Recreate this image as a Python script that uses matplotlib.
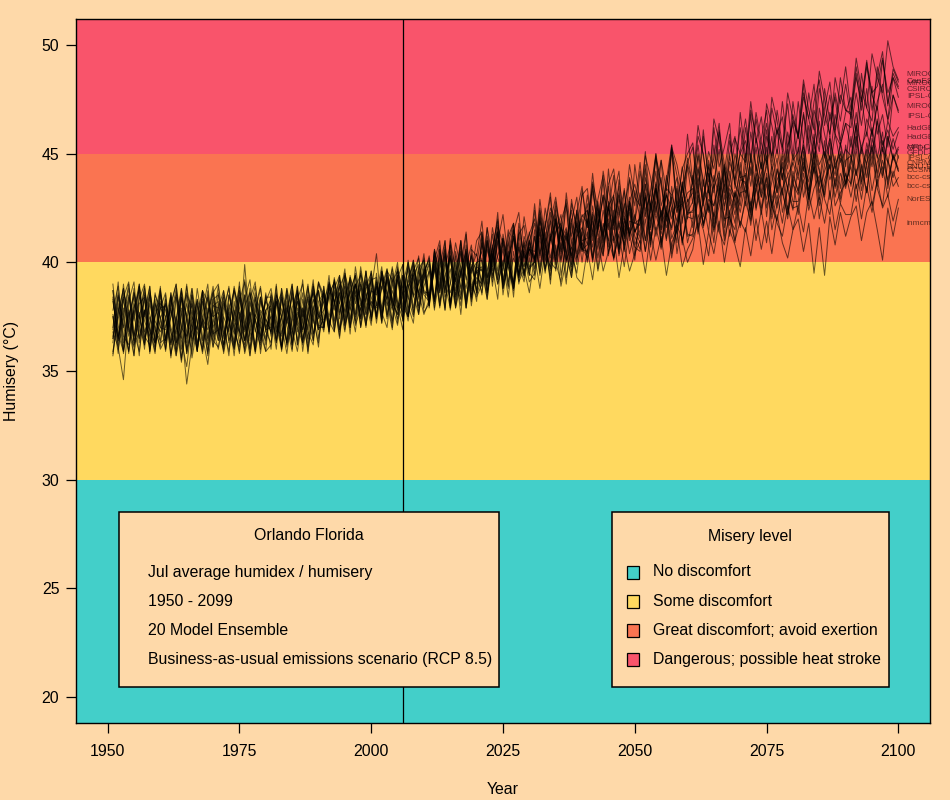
import matplotlib
matplotlib.use('Agg')
import matplotlib.pyplot as plt
from matplotlib.patches import Rectangle

plt.rcParams['font.family'] = ['Liberation Sans', 'DejaVu Sans']

# years 1951-2100, one July value per year and model
years = list(range(1951, 2101))

model_names = ['MIROC-ESM', 'CanESM2', 'MIROC-ESM-CHEM', 'CSIRO-Mk3-6-0',
               'IPSL-CM5A-MR', 'MIROC5', 'IPSL-CM5A-LR', 'HadGEM2-CC365',
               'HadGEM2-ES365', 'MRI-CGCM3', 'GFDL-ESM2G', 'GFDL-ESM2M',
               'IPSL-CM5B-LR', 'CNRM-CM5', 'BNU-ESM', 'CCSM4', 'bcc-csm1-1',
               'bcc-csm1-1-m', 'NorESM1-M', 'inmcm4']
label_y = [48.66, 48.34, 48.25, 47.97, 47.65, 47.19, 46.73, 46.18, 45.76, 45.30,
           45.25, 45.02, 44.79, 44.56, 44.38, 44.24, 43.92, 43.50, 42.90, 41.80]

miroc_esm = [
    36.3, 38.4, 37.1, 35.9, 37.9, 38.7, 36.6, 36.2, 38.1, 37.5,
    36.0, 37.5, 38.8, 36.4, 35.2, 37.3, 38.2, 36.1, 38.5, 37.0,
    37.9, 36.2, 37.0, 38.9, 37.6, 35.8, 36.9, 38.4, 36.5, 37.4,
    36.8, 38.3, 35.9, 37.6, 39.0, 37.0, 36.3, 38.0, 38.6, 37.1,
    37.0, 39.1, 38.2, 36.6, 38.3, 39.3, 37.1, 37.9, 39.6, 37.3,
    38.9, 37.2, 39.4, 38.0, 37.1, 39.0, 40.0, 37.6, 39.3, 40.2,
    38.2, 40.1, 41.0, 38.4, 39.0, 40.9, 39.7, 37.9, 40.6, 40.3,
    41.9, 39.3, 40.0, 41.7, 40.8, 38.9, 41.4, 42.3, 39.8, 40.6,
    40.1, 42.9, 41.0, 42.5, 41.8, 40.0, 43.2, 41.2, 42.3, 43.5,
    41.6, 44.1, 41.9, 41.2, 43.6, 44.3, 42.2, 43.3, 41.0, 44.5,
    42.7, 45.1, 42.5, 44.8, 43.7, 42.1, 45.3, 44.5, 43.2, 45.9,
    43.7, 46.3, 44.9, 43.3, 46.6, 45.6, 44.2, 45.9, 43.6, 46.9,
    44.8, 47.4, 45.5, 46.7, 44.6, 47.6, 46.5, 45.1, 47.8, 46.6,
    45.9, 48.4, 47.0, 46.1, 48.8, 47.5, 45.8, 48.5, 47.3, 49.0,
    47.0, 49.4, 47.9, 47.1, 49.6, 48.5, 47.8, 50.2, 49.0, 48.4]
canesm2 = [
    38.4, 36.4, 37.6, 39.0, 36.8, 35.9, 37.7, 38.5, 36.3, 37.9,
    37.5, 35.8, 36.9, 38.4, 37.6, 35.6, 37.0, 38.7, 36.4, 37.8,
    36.4, 37.9, 38.8, 36.8, 36.1, 39.2, 37.4, 36.2, 37.6, 38.2,
    37.8, 36.3, 38.4, 37.1, 35.9, 38.6, 37.5, 38.9, 36.7, 37.9,
    38.6, 37.3, 36.8, 38.9, 39.4, 37.4, 38.5, 37.8, 38.9, 39.5,
    37.5, 38.9, 38.3, 39.8, 38.2, 37.7, 39.2, 40.1, 38.4, 39.4,
    40.3, 38.3, 39.8, 41.0, 38.0, 40.5, 39.3, 41.3, 38.4, 39.8,
    39.6, 41.6, 39.1, 40.9, 42.2, 40.1, 39.0, 41.3, 41.7, 40.0,
    42.4, 40.4, 41.6, 43.0, 40.1, 41.9, 42.7, 41.0, 39.9, 43.3,
    41.6, 43.6, 41.5, 44.2, 42.7, 41.0, 43.8, 42.1, 44.5, 43.0,
    42.6, 44.9, 43.9, 42.2, 44.7, 43.3, 45.4, 42.6, 44.3, 45.0,
    45.5, 43.4, 46.1, 43.7, 44.8, 46.4, 43.5, 45.6, 44.2, 46.2,
    44.5, 47.0, 45.8, 44.3, 47.3, 46.3, 45.0, 47.4, 45.3, 46.5,
    45.8, 48.2, 45.5, 47.4, 48.4, 46.3, 47.7, 45.9, 48.5, 47.0,
    46.8, 49.0, 47.5, 49.3, 47.0, 48.6, 49.7, 47.2, 48.9, 48.3]
miroc_esm_chem = [
    36.5, 38.1, 35.8, 37.4, 38.6, 37.1, 36.2, 38.4, 36.9, 36.4,
    38.3, 36.8, 35.7, 37.9, 36.3, 38.5, 37.3, 35.9, 37.6, 38.9,
    36.9, 35.9, 38.1, 37.3, 38.7, 36.4, 37.7, 36.0, 38.4, 36.8,
    36.3, 38.0, 38.6, 36.1, 37.3, 38.2, 36.5, 37.5, 39.0, 37.6,
    37.2, 38.5, 39.1, 36.9, 37.9, 38.7, 39.4, 37.0, 38.3, 39.2,
    39.3, 37.7, 37.0, 39.1, 39.6, 38.0, 37.5, 39.4, 39.9, 38.6,
    38.6, 40.5, 38.0, 39.8, 40.8, 39.0, 38.3, 40.4, 39.5, 41.0,
    41.4, 39.6, 40.7, 41.9, 39.2, 40.4, 41.7, 39.8, 42.1, 40.6,
    40.5, 42.5, 40.1, 41.9, 43.0, 41.2, 40.4, 42.7, 41.6, 43.1,
    43.4, 41.4, 42.9, 44.0, 41.5, 43.1, 44.2, 41.1, 42.8, 43.6,
    42.5, 44.5, 42.3, 45.0, 43.5, 42.1, 45.2, 44.0, 42.8, 44.8,
    43.6, 45.8, 45.0, 43.2, 46.2, 44.4, 45.3, 46.4, 43.4, 45.1,
    46.6, 44.8, 46.9, 45.5, 44.5, 47.1, 45.9, 46.7, 44.6, 47.4,
    45.7, 47.8, 46.6, 48.2, 45.5, 47.1, 48.3, 46.1, 47.7, 47.0,
    46.9, 48.7, 47.0, 49.2, 47.8, 48.1, 49.4, 47.3, 48.7, 48.1]
csiro_mk3 = [
    37.8, 38.9, 36.6, 36.2, 38.1, 37.4, 38.8, 35.9, 37.5, 38.6,
    36.4, 37.5, 38.5, 35.6, 36.9, 38.2, 36.3, 37.4, 38.4, 36.1,
    37.6, 38.5, 36.4, 37.2, 35.8, 38.3, 39.2, 36.9, 36.2, 37.8,
    38.3, 36.8, 37.5, 38.8, 36.3, 37.4, 38.6, 35.9, 37.8, 38.7,
    37.0, 38.9, 38.1, 39.3, 37.1, 38.0, 39.0, 38.3, 37.3, 39.6,
    38.0, 39.5, 37.5, 38.7, 37.8, 39.4, 38.3, 40.0, 38.6, 39.6,
    40.1, 38.3, 40.6, 39.0, 40.2, 38.4, 41.0, 39.2, 40.3, 38.6,
    40.9, 39.3, 41.6, 40.2, 39.6, 41.2, 41.8, 39.4, 40.6, 41.3,
    42.0, 40.3, 42.5, 41.0, 42.8, 41.3, 40.0, 42.9, 41.4, 42.2,
    41.8, 43.5, 41.4, 43.1, 42.4, 44.0, 41.5, 42.6, 43.8, 41.9,
    44.2, 42.4, 43.1, 44.9, 42.6, 43.5, 45.1, 42.3, 43.4, 44.5,
    43.6, 45.4, 43.5, 45.1, 44.3, 46.0, 43.2, 45.0, 45.8, 43.9,
    46.2, 44.6, 46.6, 45.0, 46.4, 44.8, 47.0, 45.4, 44.3, 46.8,
    45.7, 47.6, 46.6, 45.4, 48.0, 46.8, 45.9, 47.8, 46.5, 48.2,
    46.6, 48.5, 47.4, 49.0, 47.7, 47.0, 49.3, 47.8, 48.5, 48.0]
ipsl_cm5a_mr = [
    35.7, 37.7, 38.8, 37.0, 36.1, 39.0, 37.3, 36.6, 38.5, 37.9,
    38.6, 36.3, 37.4, 38.8, 35.8, 36.9, 38.3, 36.6, 35.3, 37.4,
    36.4, 38.7, 37.4, 36.0, 38.5, 37.1, 35.7, 37.9, 38.9, 36.8,
    37.9, 36.3, 38.8, 37.5, 36.5, 38.7, 37.2, 36.1, 37.6, 39.1,
    38.5, 36.8, 39.3, 37.7, 38.9, 37.2, 39.8, 38.2, 37.1, 38.8,
    37.4, 39.6, 38.6, 37.0, 39.2, 37.8, 40.1, 38.4, 39.0, 40.4,
    38.0, 40.6, 39.5, 37.9, 41.1, 38.7, 39.9, 41.4, 38.5, 40.0,
    39.1, 41.6, 40.2, 42.3, 39.0, 40.9, 41.8, 39.4, 41.2, 40.3,
    42.7, 40.2, 41.7, 43.2, 40.3, 41.4, 42.9, 39.9, 42.4, 41.0,
    41.1, 43.7, 42.5, 40.9, 44.3, 41.8, 43.2, 41.3, 43.9, 42.6,
    44.6, 42.1, 43.3, 45.0, 41.9, 43.8, 45.4, 42.5, 42.7, 44.6,
    45.3, 43.0, 45.8, 44.0, 43.2, 46.1, 44.5, 43.6, 45.7, 45.0,
    44.6, 46.8, 44.2, 45.7, 47.0, 44.5, 46.1, 45.3, 47.3, 44.9,
    47.4, 45.5, 47.8, 46.2, 45.1, 48.0, 46.5, 47.6, 45.6, 46.9,
    47.6, 45.9, 48.7, 47.1, 46.5, 49.0, 47.6, 46.6, 48.5, 47.6]
miroc5 = [
    37.5, 36.2, 38.6, 37.8, 36.4, 37.4, 38.9, 37.0, 35.9, 38.1,
    37.8, 36.8, 35.9, 38.3, 37.5, 36.5, 38.8, 37.2, 36.2, 38.0,
    38.2, 36.7, 37.9, 36.3, 38.7, 37.5, 36.0, 37.7, 38.8, 36.9,
    37.0, 38.5, 36.7, 38.0, 36.2, 38.3, 39.0, 37.4, 36.4, 38.2,
    38.6, 37.1, 38.8, 39.4, 37.3, 38.7, 37.5, 39.5, 38.6, 37.5,
    39.1, 37.9, 39.4, 38.2, 39.8, 38.5, 37.5, 39.6, 40.2, 38.7,
    38.5, 40.3, 38.7, 40.4, 38.1, 39.5, 40.7, 38.2, 39.8, 39.0,
    40.9, 39.2, 41.3, 39.6, 41.1, 40.0, 39.0, 41.5, 40.2, 40.6,
    40.2, 42.0, 40.6, 42.3, 39.9, 41.6, 41.0, 42.4, 40.4, 41.3,
    43.1, 41.2, 42.5, 41.0, 43.5, 41.7, 42.9, 42.0, 41.3, 43.3,
    42.0, 43.9, 42.6, 44.2, 41.8, 43.4, 43.1, 42.3, 44.4, 42.8,
    43.2, 44.9, 43.0, 44.4, 43.7, 45.2, 42.9, 44.6, 43.8, 45.0,
    45.6, 44.0, 45.7, 44.3, 46.1, 44.2, 45.2, 43.8, 46.0, 44.7,
    45.1, 46.8, 45.0, 47.0, 46.0, 44.9, 46.9, 45.9, 45.4, 46.4,
    46.2, 47.8, 46.3, 48.0, 45.8, 47.4, 48.2, 46.5, 47.7, 47.0]
ipsl_cm5a_lr = [
    37.0, 39.1, 36.3, 37.7, 35.7, 38.5, 37.5, 38.9, 36.1, 37.4,
    35.9, 38.4, 37.3, 35.4, 37.6, 38.8, 36.0, 37.4, 36.9, 38.6,
    39.0, 37.2, 35.7, 38.2, 36.6, 39.9, 37.0, 35.9, 38.4, 37.3,
    36.0, 38.6, 37.4, 36.3, 38.9, 36.8, 37.9, 35.8, 38.2, 38.7,
    36.9, 39.1, 38.2, 36.5, 39.5, 38.5, 37.2, 39.6, 37.8, 38.7,
    40.4, 37.7, 39.2, 37.2, 39.6, 38.8, 37.5, 39.8, 38.5, 40.1,
    38.0, 40.5, 39.4, 37.8, 41.0, 39.7, 38.3, 40.6, 38.2, 39.9,
    41.4, 39.0, 40.6, 42.0, 38.8, 40.0, 41.5, 39.3, 40.9, 39.7,
    40.0, 42.4, 41.1, 39.6, 42.6, 41.3, 40.1, 41.9, 43.0, 40.6,
    40.8, 43.3, 41.7, 43.8, 40.7, 42.2, 43.5, 41.1, 42.8, 41.8,
    42.0, 44.3, 41.6, 43.4, 44.7, 41.9, 43.0, 43.9, 41.8, 44.4,
    42.7, 45.0, 43.8, 42.4, 45.4, 43.3, 44.5, 42.6, 45.0, 43.9,
    43.6, 46.0, 44.4, 43.2, 45.8, 44.9, 46.2, 43.8, 45.3, 46.4,
    44.5, 46.9, 45.4, 44.1, 47.1, 45.9, 44.7, 46.8, 45.5, 44.4,
    46.9, 45.2, 47.6, 45.8, 48.1, 45.9, 46.8, 45.3, 47.7, 46.9]
hadgem2_cc = [
    38.2, 36.7, 35.9, 38.4, 37.3, 38.9, 36.5, 37.2, 38.3, 36.3,
    36.5, 38.0, 39.0, 37.0, 34.4, 36.2, 38.0, 36.4, 37.6, 38.7,
    36.8, 36.0, 38.5, 37.7, 36.3, 37.1, 38.8, 35.8, 37.3, 38.2,
    38.8, 37.3, 36.1, 38.7, 36.9, 35.9, 37.6, 39.0, 36.7, 37.5,
    38.2, 39.0, 37.3, 38.6, 37.5, 39.4, 38.1, 38.8, 37.0, 39.3,
    38.0, 39.6, 38.6, 37.8, 39.4, 37.3, 38.8, 40.1, 38.3, 39.3,
    40.0, 38.2, 40.6, 39.0, 37.9, 40.3, 38.8, 39.8, 40.8, 38.5,
    39.3, 41.0, 38.9, 41.3, 39.7, 41.5, 39.1, 40.3, 39.8, 41.4,
    40.1, 41.9, 40.8, 39.7, 42.2, 41.0, 41.6, 40.2, 42.4, 40.7,
    42.4, 41.0, 42.8, 41.2, 42.6, 43.1, 40.6, 41.9, 43.0, 41.4,
    41.8, 43.6, 42.4, 43.4, 41.5, 44.0, 42.7, 41.9, 43.7, 42.3,
    42.8, 44.4, 42.6, 44.7, 43.4, 44.2, 42.4, 44.9, 43.6, 43.0,
    45.0, 43.5, 45.3, 43.6, 44.4, 45.8, 43.2, 45.1, 44.0, 44.6,
    46.0, 44.2, 46.3, 44.7, 46.5, 44.8, 45.7, 44.3, 45.4, 46.4,
    45.3, 46.9, 45.0, 46.6, 45.9, 47.2, 45.1, 46.5, 45.8, 46.2]
hadgem2_es = [
    35.8, 37.9, 37.0, 38.5, 36.6, 37.7, 36.0, 38.6, 37.3, 36.8,
    37.4, 36.2, 38.6, 37.6, 36.0, 36.9, 38.3, 37.5, 35.7, 38.0,
    37.9, 38.7, 36.8, 36.0, 37.4, 38.5, 36.6, 37.6, 37.0, 36.4,
    37.6, 36.5, 38.3, 37.2, 38.6, 36.2, 37.9, 36.9, 38.9, 37.4,
    37.8, 38.8, 37.1, 39.2, 38.3, 37.0, 38.9, 39.4, 37.6, 38.2,
    37.9, 38.8, 39.6, 38.3, 37.4, 38.7, 39.7, 37.9, 39.2, 38.5,
    38.2, 39.9, 38.6, 40.4, 39.1, 38.0, 39.6, 40.5, 38.7, 39.3,
    39.0, 40.8, 39.4, 40.3, 41.1, 39.1, 40.2, 39.5, 41.0, 39.8,
    40.0, 41.6, 40.4, 39.8, 41.4, 41.8, 40.1, 40.9, 41.9, 40.5,
    41.9, 40.7, 42.3, 41.3, 42.6, 40.9, 41.9, 40.8, 42.5, 41.4,
    42.0, 43.0, 41.5, 43.4, 42.1, 43.1, 42.5, 41.3, 43.5, 42.2,
    42.4, 43.9, 42.8, 43.4, 42.1, 44.1, 42.6, 43.6, 43.0, 44.2,
    43.2, 44.8, 43.5, 44.1, 44.9, 42.9, 43.8, 44.4, 43.4, 45.0,
    44.0, 45.4, 44.1, 45.6, 44.5, 45.1, 44.3, 45.9, 44.6, 45.2,
    44.9, 46.3, 45.3, 46.0, 45.0, 46.5, 45.4, 46.1, 45.2, 46.0]
mri_cgcm3 = [
    38.7, 36.0, 37.5, 38.8, 36.3, 37.2, 38.3, 35.8, 38.1, 37.0,
    36.9, 38.4, 35.9, 37.6, 38.6, 36.4, 37.1, 38.5, 37.4, 36.1,
    37.5, 36.2, 37.8, 38.7, 36.9, 36.0, 38.2, 37.3, 36.6, 38.6,
    36.6, 38.2, 37.1, 35.8, 37.6, 38.9, 36.9, 38.5, 37.4, 36.3,
    38.9, 37.2, 38.0, 39.4, 36.9, 38.2, 39.0, 37.4, 39.6, 38.0,
    39.2, 37.6, 38.5, 39.7, 38.1, 37.4, 40.0, 38.5, 37.6, 39.5,
    40.2, 37.9, 39.3, 40.6, 38.0, 39.6, 37.6, 40.3, 39.0, 38.4,
    39.0, 41.2, 39.8, 38.3, 41.3, 40.0, 39.0, 40.7, 39.4, 41.0,
    41.8, 39.8, 41.1, 39.0, 42.0, 40.5, 41.5, 39.6, 42.2, 40.7,
    40.2, 42.6, 41.2, 40.3, 42.8, 41.7, 40.4, 42.7, 41.3, 41.9,
    43.2, 41.0, 42.3, 43.6, 40.8, 42.4, 41.5, 43.4, 41.0, 42.1,
    42.0, 44.3, 42.8, 41.4, 44.0, 43.0, 44.4, 41.7, 43.3, 42.6,
    44.5, 42.6, 43.9, 45.1, 42.5, 43.7, 44.8, 42.3, 43.4, 44.6,
    43.8, 45.6, 43.2, 45.1, 44.2, 43.1, 45.8, 44.5, 45.0, 43.6,
    45.8, 44.0, 45.3, 44.5, 46.2, 44.9, 43.9, 45.8, 44.8, 45.3]
gfdl_esm2g = [
    37.5, 35.8, 38.4, 39.1, 36.2, 36.8, 38.5, 35.9, 37.7, 38.8,
    36.4, 38.6, 35.7, 37.0, 39.0, 36.1, 37.6, 38.7, 35.9, 37.4,
    38.9, 36.6, 37.5, 35.7, 38.2, 39.1, 36.4, 37.4, 36.0, 38.5,
    37.0, 39.0, 36.0, 37.9, 36.8, 38.9, 36.3, 37.6, 39.2, 36.5,
    37.7, 39.4, 36.9, 38.4, 39.7, 37.0, 39.0, 37.7, 39.6, 37.3,
    39.5, 37.2, 39.7, 38.2, 37.6, 39.9, 37.5, 38.8, 40.3, 37.7,
    38.1, 40.6, 38.9, 41.0, 37.9, 40.0, 38.5, 40.8, 39.3, 38.2,
    41.3, 38.6, 40.2, 41.6, 39.0, 40.5, 38.4, 41.3, 39.5, 40.7,
    39.4, 42.1, 40.0, 41.3, 42.4, 39.4, 40.9, 42.0, 40.1, 41.5,
    42.7, 40.2, 41.6, 43.1, 40.3, 42.1, 40.5, 43.4, 41.2, 42.2,
    41.1, 43.6, 40.8, 42.9, 43.9, 41.1, 42.5, 40.9, 43.7, 42.0,
    44.0, 41.4, 42.9, 44.5, 41.8, 43.5, 41.2, 44.2, 42.5, 44.6,
    42.6, 45.0, 42.5, 43.9, 45.3, 42.2, 44.3, 43.1, 45.2, 43.6,
    45.3, 43.0, 44.1, 45.9, 42.9, 44.5, 45.5, 43.4, 44.8, 43.6,
    44.5, 46.4, 43.7, 45.5, 44.4, 46.6, 44.0, 45.8, 44.7, 45.2]
gfdl_esm2m = [
    38.7, 37.1, 35.9, 38.2, 39.1, 36.5, 37.8, 36.0, 38.6, 37.4,
    38.1, 36.2, 37.5, 35.5, 38.5, 37.9, 35.9, 38.3, 37.1, 36.4,
    36.1, 37.6, 38.9, 37.0, 35.9, 38.0, 38.6, 36.8, 37.8, 36.2,
    38.5, 37.1, 36.0, 38.8, 37.7, 36.4, 38.3, 36.8, 36.2, 38.7,
    37.0, 38.5, 39.1, 37.4, 39.5, 38.0, 36.8, 39.0, 38.2, 39.6,
    37.4, 39.6, 38.2, 36.9, 39.3, 39.9, 38.0, 37.2, 39.7, 40.1,
    38.4, 39.6, 40.8, 37.8, 40.3, 39.1, 41.0, 37.9, 39.7, 40.4,
    38.9, 41.0, 39.8, 41.4, 38.5, 40.2, 41.1, 39.3, 40.6, 39.4,
    41.2, 39.6, 41.9, 40.2, 41.4, 42.2, 39.3, 40.7, 41.8, 40.0,
    42.0, 40.2, 42.6, 40.7, 42.2, 43.0, 40.3, 41.6, 42.8, 40.8,
    41.5, 43.1, 40.7, 43.4, 42.3, 41.0, 43.5, 41.5, 42.6, 43.2,
    43.4, 41.6, 43.8, 42.3, 43.6, 41.4, 44.2, 42.9, 41.8, 43.9,
    44.0, 42.3, 44.5, 43.0, 44.7, 42.6, 43.4, 44.6, 42.4, 44.2,
    43.2, 45.1, 42.9, 45.4, 44.3, 43.0, 44.9, 44.0, 45.5, 43.5,
    44.7, 45.9, 43.6, 45.0, 46.1, 43.9, 45.2, 44.6, 45.7, 44.8]
ipsl_cm5b_lr = [
    36.5, 37.6, 38.8, 37.0, 35.7, 38.1, 38.4, 36.8, 36.3, 37.9,
    38.0, 35.6, 38.4, 37.0, 36.6, 37.8, 35.9, 38.7, 38.2, 36.9,
    36.0, 37.5, 36.8, 38.7, 37.9, 36.4, 37.3, 38.4, 35.8, 37.8,
    38.0, 36.4, 37.5, 38.5, 36.0, 37.7, 36.9, 38.3, 37.2, 39.0,
    38.4, 36.8, 38.7, 38.1, 39.3, 37.0, 38.3, 39.1, 37.1, 38.7,
    38.5, 39.3, 37.4, 39.5, 37.9, 38.4, 39.8, 39.2, 37.7, 38.9,
    39.6, 38.2, 40.2, 38.8, 39.7, 38.1, 40.5, 39.3, 38.4, 39.9,
    40.5, 38.9, 40.7, 39.4, 40.6, 38.8, 41.2, 39.9, 39.1, 40.9,
    40.0, 41.4, 39.7, 41.1, 41.8, 40.1, 41.4, 40.3, 41.7, 40.6,
    40.5, 42.1, 40.2, 41.8, 41.0, 42.4, 40.6, 41.9, 41.3, 40.1,
    42.5, 41.0, 42.7, 41.5, 42.2, 43.1, 41.1, 41.8, 42.9, 40.9,
    41.9, 43.4, 41.7, 42.9, 42.6, 43.7, 41.6, 43.2, 42.2, 43.8,
    43.7, 42.4, 44.1, 43.0, 43.9, 42.5, 44.3, 43.2, 42.2, 44.0,
    43.3, 44.8, 43.0, 44.4, 43.5, 45.0, 43.8, 44.5, 42.9, 44.7,
    44.9, 44.0, 45.3, 43.9, 45.4, 44.1, 45.6, 44.7, 43.9, 44.9]
cnrm_cm5 = [
    38.3, 36.4, 39.0, 36.8, 37.8, 35.7, 38.6, 37.6, 36.5, 38.9,
    36.0, 38.6, 37.0, 36.5, 38.9, 37.4, 35.9, 37.8, 39.0, 36.4,
    38.1, 35.8, 37.2, 38.8, 37.5, 36.4, 38.3, 39.1, 36.7, 35.9,
    36.2, 38.5, 37.8, 36.3, 38.7, 37.1, 39.2, 36.3, 38.0, 36.9,
    38.9, 36.7, 39.2, 38.1, 36.8, 39.1, 37.6, 39.8, 38.2, 37.1,
    39.1, 37.3, 39.6, 39.2, 38.0, 36.9, 39.3, 39.9, 37.6, 39.7,
    37.9, 40.3, 38.8, 40.7, 37.8, 39.5, 41.0, 38.3, 39.9, 38.7,
    41.2, 38.6, 40.1, 41.4, 39.0, 40.3, 38.8, 41.8, 40.3, 39.1,
    39.5, 42.2, 40.8, 39.2, 42.0, 40.6, 42.6, 39.8, 41.3, 42.1,
    42.4, 40.0, 41.6, 43.0, 40.4, 41.9, 43.1, 40.6, 42.3, 41.2,
    40.6, 43.2, 41.9, 43.7, 40.9, 42.3, 41.6, 43.5, 40.8, 42.6,
    43.7, 41.3, 42.9, 44.1, 41.6, 43.1, 44.3, 42.0, 41.5, 43.4,
    44.1, 42.0, 43.4, 44.6, 42.1, 44.2, 42.5, 44.9, 43.3, 42.4,
    44.5, 45.3, 42.6, 44.7, 43.6, 45.6, 42.9, 44.9, 43.4, 45.4,
    43.5, 45.8, 44.4, 43.2, 45.7, 44.8, 46.0, 43.4, 45.0, 44.3]
bnu_esm = [
    36.6, 38.5, 37.4, 35.9, 37.8, 39.0, 36.2, 38.1, 36.9, 36.1,
    38.5, 35.7, 37.3, 38.7, 36.5, 38.1, 36.8, 36.0, 37.6, 38.6,
    36.7, 38.4, 36.3, 37.6, 38.9, 37.2, 36.0, 38.1, 37.4, 36.5,
    38.2, 36.7, 38.8, 36.2, 37.4, 38.6, 35.9, 37.6, 38.7, 37.7,
    36.8, 39.0, 37.8, 38.6, 37.2, 39.3, 38.6, 37.5, 39.2, 38.4,
    37.6, 39.3, 38.5, 37.3, 39.7, 37.5, 38.8, 39.5, 37.9, 39.2,
    39.9, 38.1, 40.0, 38.6, 40.5, 37.9, 39.0, 40.3, 38.3, 39.6,
    38.6, 40.6, 39.6, 41.0, 38.8, 40.0, 41.2, 39.2, 40.5, 39.4,
    41.2, 39.4, 41.4, 40.0, 39.7, 41.7, 40.5, 39.3, 41.1, 42.0,
    40.1, 41.9, 40.6, 42.4, 41.0, 40.2, 42.3, 41.2, 42.7, 41.4,
    42.1, 40.5, 42.7, 41.2, 42.4, 41.6, 43.0, 40.4, 42.0, 42.9,
    41.6, 43.1, 42.1, 43.5, 41.5, 42.6, 43.6, 41.2, 43.2, 42.3,
    43.6, 42.2, 43.9, 42.5, 44.1, 42.6, 41.9, 43.4, 44.0, 42.8,
    42.8, 44.4, 43.3, 44.7, 42.6, 43.8, 44.5, 43.0, 44.1, 43.4,
    44.9, 43.4, 44.2, 45.2, 43.3, 44.6, 45.3, 43.6, 44.9, 44.2]
ccsm4 = [
    35.9, 37.4, 38.4, 36.6, 37.6, 38.9, 36.8, 37.5, 36.0, 38.5,
    37.0, 37.9, 36.3, 38.8, 37.3, 35.8, 38.1, 37.0, 38.7, 36.6,
    38.6, 37.0, 35.9, 37.8, 36.8, 38.5, 35.7, 37.5, 38.4, 37.0,
    37.5, 36.0, 38.5, 37.3, 36.7, 38.2, 37.7, 36.5, 38.9, 36.9,
    37.4, 38.5, 36.8, 39.0, 37.7, 38.6, 39.4, 37.0, 38.8, 39.1,
    37.2, 38.9, 39.7, 37.9, 39.2, 38.4, 37.3, 39.4, 38.0, 39.8,
    38.3, 39.7, 38.0, 40.3, 38.6, 39.2, 40.5, 37.9, 39.6, 40.0,
    40.1, 38.7, 40.8, 39.2, 41.1, 39.8, 38.8, 40.9, 39.4, 41.0,
    40.2, 41.6, 39.7, 41.0, 42.0, 40.4, 41.3, 39.5, 41.2, 41.6,
    40.8, 42.3, 41.4, 40.3, 42.5, 41.5, 42.6, 40.5, 41.9, 41.8,
    41.7, 43.0, 41.1, 42.6, 41.5, 43.2, 42.0, 42.8, 40.9, 42.3,
    42.3, 43.6, 41.7, 43.3, 42.6, 43.9, 41.9, 43.4, 42.8, 41.6,
    43.0, 44.4, 42.4, 43.9, 42.9, 44.5, 43.2, 44.1, 42.2, 43.6,
    43.1, 44.6, 43.7, 45.0, 43.2, 44.2, 44.9, 43.5, 45.1, 44.0,
    43.6, 45.2, 43.3, 44.6, 45.3, 43.5, 44.7, 43.8, 44.9, 44.2]
bcc_csm1_1 = [
    39.0, 36.6, 37.9, 35.8, 38.6, 37.6, 36.3, 38.7, 37.1, 36.0,
    36.5, 38.1, 39.0, 36.0, 37.4, 38.5, 36.2, 37.3, 35.8, 38.3,
    38.5, 36.5, 37.7, 36.7, 39.1, 35.9, 37.5, 38.6, 36.3, 37.8,
    36.7, 38.9, 36.1, 37.8, 39.0, 36.2, 37.4, 38.4, 36.4, 39.1,
    38.1, 36.9, 39.2, 37.6, 38.7, 36.7, 39.5, 38.0, 39.1, 37.4,
    38.6, 39.8, 37.6, 38.9, 40.0, 37.3, 39.2, 38.5, 39.8, 37.9,
    39.7, 37.8, 40.4, 38.6, 40.8, 37.9, 39.5, 40.6, 38.0, 39.8,
    38.5, 41.0, 39.3, 41.4, 38.8, 40.1, 41.5, 39.0, 40.4, 39.6,
    41.5, 39.5, 40.8, 41.9, 39.6, 41.0, 39.0, 41.8, 40.2, 40.9,
    40.4, 42.2, 39.7, 41.6, 42.5, 40.1, 41.8, 40.8, 42.6, 40.3,
    42.2, 40.5, 41.9, 42.8, 40.7, 42.3, 40.4, 41.5, 43.0, 41.3,
    41.2, 43.1, 41.6, 42.7, 40.9, 43.4, 42.0, 42.1, 40.9, 43.2,
    43.3, 41.7, 43.6, 42.2, 43.9, 41.5, 42.7, 43.4, 42.0, 43.8,
    42.2, 44.1, 42.9, 44.4, 42.0, 43.5, 44.5, 42.6, 43.2, 43.7,
    44.4, 42.8, 44.5, 43.2, 45.0, 43.4, 42.6, 44.7, 43.5, 43.9]
bcc_csm1_1_m = [
    37.6, 36.5, 38.3, 37.0, 38.8, 36.3, 37.8, 36.9, 35.8, 38.7,
    37.4, 38.5, 36.3, 36.8, 38.1, 37.0, 35.9, 38.7, 37.6, 36.7,
    36.9, 38.2, 37.4, 36.2, 37.7, 36.8, 38.6, 37.4, 36.4, 38.4,
    38.4, 37.0, 36.6, 38.2, 36.2, 37.9, 36.8, 38.8, 37.6, 36.1,
    38.7, 37.5, 38.6, 36.9, 39.0, 37.8, 38.7, 37.1, 39.2, 37.9,
    38.9, 37.4, 39.2, 38.0, 39.4, 38.5, 39.0, 37.7, 39.6, 38.6,
    38.4, 40.1, 38.2, 39.3, 40.3, 38.3, 39.7, 38.8, 40.4, 38.6,
    40.2, 38.5, 40.4, 39.2, 40.9, 39.8, 38.7, 40.7, 39.3, 41.0,
    39.7, 41.4, 39.6, 41.2, 40.1, 41.6, 40.4, 39.3, 41.5, 40.5,
    41.4, 40.1, 41.8, 40.5, 42.0, 40.2, 41.3, 42.1, 40.4, 41.5,
    40.9, 42.4, 41.0, 42.2, 41.3, 42.6, 40.6, 41.8, 42.7, 41.2,
    41.3, 42.9, 41.8, 42.6, 41.4, 43.0, 41.0, 42.3, 43.2, 41.7,
    42.8, 41.9, 43.4, 42.4, 43.6, 42.0, 43.1, 41.8, 43.5, 42.5,
    42.6, 43.8, 42.4, 43.4, 44.0, 42.9, 42.2, 43.9, 42.7, 44.1,
    43.0, 44.3, 42.9, 44.5, 42.6, 43.8, 44.4, 43.0, 44.2, 43.5]
noresm1_m = [
    36.9, 38.6, 36.0, 37.8, 36.6, 38.3, 39.0, 36.4, 37.5, 38.2,
    36.3, 37.8, 36.7, 38.4, 35.9, 38.8, 37.2, 35.8, 37.9, 37.5,
    37.7, 36.1, 38.5, 37.3, 36.8, 36.2, 37.9, 38.9, 37.1, 35.9,
    38.6, 37.5, 36.1, 37.3, 38.4, 37.4, 36.4, 37.8, 38.6, 37.0,
    37.0, 38.8, 38.2, 36.8, 38.5, 39.2, 37.3, 39.0, 37.6, 39.3,
    37.5, 39.4, 38.0, 39.3, 37.2, 39.4, 37.8, 39.7, 38.6, 37.6,
    38.3, 40.0, 37.9, 39.4, 40.2, 38.5, 39.6, 38.1, 40.3, 39.5,
    39.7, 38.3, 40.5, 39.0, 40.0, 40.9, 38.8, 40.2, 40.8, 39.5,
    39.2, 41.1, 39.5, 41.3, 40.0, 39.1, 41.2, 40.4, 39.5, 41.4,
    40.0, 41.5, 39.6, 40.9, 41.8, 40.2, 41.3, 39.8, 41.6, 40.7,
    40.5, 42.0, 40.1, 41.6, 40.6, 42.1, 40.2, 41.7, 41.1, 40.0,
    40.6, 42.2, 41.5, 40.3, 42.3, 41.4, 40.8, 42.4, 41.0, 41.9,
    41.4, 42.8, 41.0, 42.4, 40.9, 42.9, 41.8, 41.2, 42.6, 41.5,
    42.6, 41.4, 43.2, 42.0, 43.0, 41.8, 43.3, 41.5, 42.7, 42.2,
    42.2, 43.6, 42.0, 43.5, 42.3, 43.8, 42.5, 43.1, 41.9, 42.9]
inmcm4 = [
    36.8, 36.1, 34.6, 37.6, 38.4, 36.5, 37.7, 38.9, 36.3, 37.0,
    38.1, 37.0, 36.2, 38.6, 35.8, 37.5, 36.9, 38.2, 36.5, 38.3,
    36.6, 38.1, 37.3, 36.1, 38.4, 36.9, 37.7, 35.9, 38.2, 37.4,
    36.8, 38.2, 37.5, 36.3, 37.9, 38.7, 36.2, 37.2, 38.3, 37.5,
    38.5, 37.0, 38.2, 38.9, 37.1, 38.3, 39.0, 37.4, 38.6, 37.6,
    39.0, 37.5, 39.3, 38.2, 37.6, 39.4, 38.4, 37.5, 39.1, 39.5,
    38.0, 39.8, 38.6, 40.0, 38.2, 39.3, 38.0, 40.1, 38.8, 39.6,
    39.8, 38.3, 40.3, 39.0, 40.1, 38.4, 40.5, 39.1, 39.7, 38.6,
    40.3, 38.8, 40.6, 39.4, 40.8, 38.9, 40.1, 40.7, 39.3, 39.0,
    40.6, 39.2, 41.1, 39.6, 40.5, 41.2, 39.3, 40.8, 39.6, 40.4,
    41.0, 39.5, 41.4, 40.1, 41.2, 39.4, 40.9, 41.5, 39.8, 40.6,
    41.1, 41.8, 39.9, 41.4, 40.4, 41.9, 40.0, 41.5, 40.8, 39.8,
    41.6, 40.3, 42.0, 40.6, 41.9, 40.4, 42.2, 40.9, 40.2, 41.5,
    42.0, 40.5, 41.8, 39.5, 41.6, 39.4, 42.1, 40.8, 42.3, 41.2,
    42.1, 42.6, 41.0, 42.3, 42.8, 41.5, 40.1, 42.5, 41.2, 42.5]

series = [miroc_esm, canesm2, miroc_esm_chem, csiro_mk3, ipsl_cm5a_mr, miroc5,
          ipsl_cm5a_lr, hadgem2_cc, hadgem2_es, mri_cgcm3, gfdl_esm2g, gfdl_esm2m,
          ipsl_cm5b_lr, cnrm_cm5, bnu_esm, ccsm4, bcc_csm1_1, bcc_csm1_1_m,
          noresm1_m, inmcm4]

# misery bands
band_lo = [0, 30, 40, 45]
band_hi = [30, 40, 45, 60]
band_colors = ['#43CFC9', '#FFD95F', '#FA7451', '#F9546B']
band_labels = ['No discomfort', 'Some discomfort',
               'Great discomfort; avoid exertion', 'Dangerous; possible heat stroke']

info_title = 'Orlando Florida'
info_lines = ['Jul average humidex / humisery', '1950 - 2099',
              '20 Model Ensemble',
              'Business-as-usual emissions scenario (RCP 8.5)']

bg = '#FED9A9'
W, H = 950, 800
FS = 11.4


def fx(px):
    return px / W


def fy(py):
    return 1 - py / H


fig = plt.figure(figsize=(9.5, 8), dpi=100, facecolor=bg)
ax = fig.add_axes([fx(76), fy(723), (930 - 76) / W, (723 - 19) / H])

for lo, hi, c in zip(band_lo, band_hi, band_colors):
    ax.axhspan(lo, hi, color=c, lw=0, zorder=0)

ax.axvline(2006, color='black', lw=0.9, zorder=1)

for s in series:
    ax.plot(years, s, color='black', alpha=0.6, lw=0.7, zorder=2)

for name, y in zip(model_names, label_y):
    ax.text(2101.6, y, name, fontsize=6, color='black', alpha=0.6,
            ha='left', va='center', clip_on=True, zorder=3)

ax.set_xlim(1944, 2106)
ax.set_ylim(18.8, 51.2)
ax.set_xticks([1950, 1975, 2000, 2025, 2050, 2075, 2100])
ax.set_yticks([20, 25, 30, 35, 40, 45, 50])
ax.tick_params(axis='x', length=7, width=0.9, labelsize=FS, pad=8)
ax.tick_params(axis='y', length=7, width=0.9, labelsize=FS, pad=5)
for sp in ax.spines.values():
    sp.set_linewidth(1)
    sp.set_zorder(10)

# info box (left)
ax.add_patch(Rectangle((fx(119), fy(687)), (499 - 119) / W, (687 - 512) / H,
                       transform=fig.transFigure, facecolor=bg,
                       edgecolor='black', lw=1.1, zorder=5))
ax.text(fx(309), fy(536), info_title, transform=fig.transFigure,
        fontsize=FS, ha='center', va='center', zorder=6)
for i, line in enumerate(info_lines):
    ax.text(fx(148), fy(572 + i * 29.3), line, transform=fig.transFigure,
            fontsize=FS, ha='left', va='center', zorder=6)

# misery legend (right)
ax.add_patch(Rectangle((fx(612), fy(687)), (889 - 612) / W, (687 - 512) / H,
                       transform=fig.transFigure, facecolor=bg,
                       edgecolor='black', lw=1.1, zorder=5))
ax.text(fx(750), fy(536), 'Misery level', transform=fig.transFigure,
        fontsize=FS, ha='center', va='center', zorder=6)
for i, (lab, c) in enumerate(zip(band_labels, band_colors)):
    yc = 572 + i * 29.3
    ax.add_patch(Rectangle((fx(627), fy(yc + 6.5)), 12 / W, 13 / H,
                           transform=fig.transFigure, facecolor=c,
                           edgecolor='black', lw=0.9, zorder=6))
    ax.text(fx(653), fy(yc), lab, transform=fig.transFigure,
            fontsize=FS, ha='left', va='center', zorder=6)

fig.text(fx(503), fy(790), 'Year', fontsize=FS, ha='center', va='center')
fig.text(fx(12), fy(371), 'Humisery (\u00b0C)', fontsize=FS, ha='center',
         va='center', rotation=90)

fig.savefig('out.png', dpi=100, facecolor=bg)
